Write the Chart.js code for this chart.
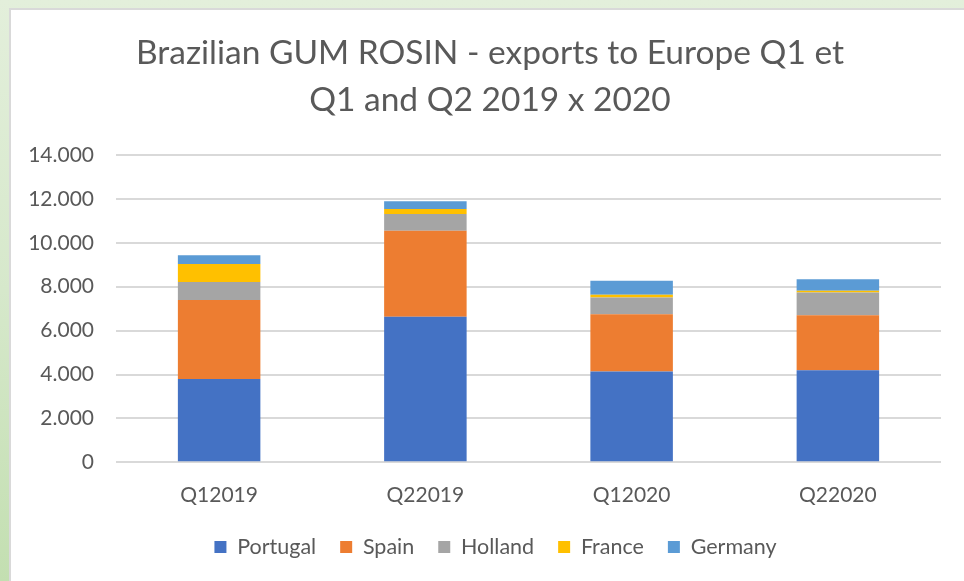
<!DOCTYPE html>
<html>
<head>
<meta charset="utf-8">
<script src="https://cdn.jsdelivr.net/npm/chart.js@4.4.1/dist/chart.umd.min.js"></script>
<style>
  html, body { margin: 0; padding: 0; }
  body {
    width: 964px; height: 581px; overflow: hidden;
    background: linear-gradient(to bottom, #e3efdb 0%, #d6e8cb 50%, #c3dfb1 100%);
    position: relative;
  }
  #frame {
    position: absolute; left: 9px; top: 8px;
    width: 953px; height: 573px;
    background: #ffffff;
    border-top: 2px solid #d9d9d9;
    border-left: 2px solid #d9d9d9;
  }
  #wrap { position: absolute; left: 0; top: 0; width: 953px; height: 573px; }
</style>
</head>
<body>
<div id="frame"><div id="wrap"><canvas id="c"></canvas></div></div>
<script>
const categories = ["Q12019", "Q22019", "Q12020", "Q22020"];
const portugal = [3790, 6630, 4135, 4195];
const spain    = [3600, 3920, 2615, 2510];
const holland  = [820, 760, 760, 1035];
const france   = [820, 230, 120, 75];
const germany  = [400, 350, 640, 520];
const titleLines = ["Brazilian GUM ROSIN - exports to Europe Q1 et", "Q1 and Q2 2019 x 2020"];

const FONT = "Lato, 'Open Sans', sans-serif";
const TEXT = "#595959";

function fmt(v) {
  return String(Math.round(v)).replace(/\B(?=(\d{3})+(?!\d))/g, ".");
}

const ds = (label, data, color) => ({
  label, data, backgroundColor: color, borderWidth: 0,
  barPercentage: 0.4, categoryPercentage: 1.0
});

// Nudge title and legend to the positions they take in the reference
const placeBoxes = {
  id: "placeBoxes",
  afterLayout(chart) {
    const t = chart.titleBlock;
    if (t) { t.left += 14; t.right += 14; }
    const lg = chart.legend;
    if (lg) {
      const lo = lg.options.labels;
      const H = Math.max(lo.boxHeight, lo.font.size);
      const dy = 537 - (lg.top + lo.padding + H / 2);
      lg.top += dy; lg.bottom += dy;
      lg.left += 19.5; lg.right += 19.5;
    }
  }
};

new Chart(document.getElementById("c"), {
  type: "bar",
  data: {
    labels: categories,
    datasets: [
      ds("Portugal", portugal, "#4472C4"),
      ds("Spain", spain, "#ED7D31"),
      ds("Holland", holland, "#A5A5A5"),
      ds("France", france, "#FFC000"),
      ds("Germany", germany, "#5B9BD5")
    ]
  },
  plugins: [placeBoxes],
  options: {
    responsive: true,
    maintainAspectRatio: false,
    animation: false,
    layout: { padding: { left: 0, right: 23, top: 0, bottom: 0 } },
    plugins: {
      title: {
        display: true,
        text: titleLines,
        color: TEXT,
        font: { family: FONT, size: 33.5, weight: "normal", lineHeight: 1.403 },
        padding: { top: 20, bottom: 31 }
      },
      legend: {
        position: "bottom",
        labels: {
          color: TEXT,
          font: { family: FONT, size: 21.5 },
          boxWidth: 12, boxHeight: 12,
          padding: 24
        }
      },
      tooltip: { enabled: false }
    },
    scales: {
      x: {
        stacked: true,
        grid: { display: false, drawTicks: false },
        border: { display: false },
        ticks: { color: TEXT, font: { family: FONT, size: 21 }, padding: 20, maxRotation: 0 }
      },
      y: {
        stacked: true,
        min: 0, max: 14000,
        afterFit: (s) => { s.width = 105; },
        grid: { color: "#d9d9d9", lineWidth: 2, drawTicks: false },
        border: { display: false },
        ticks: {
          stepSize: 2000,
          color: TEXT,
          font: { family: FONT, size: 21 },
          padding: 22,
          callback: (v) => fmt(v)
        }
      }
    }
  }
});
</script>
</body>
</html>
